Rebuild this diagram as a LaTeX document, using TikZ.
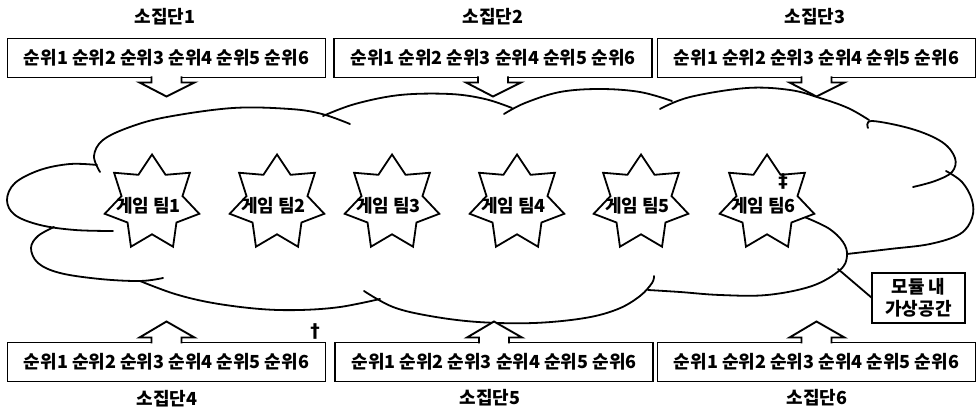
\documentclass[tikz,border=0pt]{standalone}
\usepackage{fontspec}
\setmainfont{Noto Sans CJK KR}
\newfontfamily\symf{DejaVu Sans}
\usetikzlibrary{shapes.geometric,calc}
\begin{document}
\begin{tikzpicture}[x=1pt,y=-1pt,
  rankbox/.style={draw, line width=1.9pt, minimum width=318pt, minimum height=39pt,
    inner sep=0pt, outer sep=0pt, font=\bfseries\fontsize{18}{20}\selectfont},
  hdr/.style={font=\bfseries\fontsize{18}{20}\selectfont, inner sep=0pt},
  ptr/.style={draw, fill=white, line width=1.9pt, line join=miter},
  cl/.style={line width=1.8pt, line cap=round, line join=round},
  starnode/.style={star, star points=7, star point ratio=1.55, minimum size=97pt,
    inner sep=0pt, draw, fill=white, line width=1.8pt},
  steam/.style={font=\bfseries\fontsize{18}{20}\selectfont, inner sep=0pt},
  symmark/.style={font=\symf\bfseries\fontsize{19}{19}\selectfont, inner sep=0pt}
]
\useasboundingbox (0,0) rectangle (977,411);

% ---------- cloud ----------
\draw[cl] plot[smooth, tension=0.6] coordinates {(100,172) (94,156) (103,140) (130,127) (167,117) (233,108) (290,109) (322,114) (350,124)};
\draw[cl] plot[smooth, tension=0.6] coordinates {(323,116) (355,104) (400,95) (450,94) (485,99) (512,108)};
\draw[cl] plot[smooth, tension=0.6] coordinates {(504,114) (525,103) (560,92) (600,89) (640,92) (672,101)};
\draw[cl] plot[smooth, tension=0.6] coordinates {(660,109) (690,97) (747,88) (790,90) (820,98) (848,108) (869,120)};
\draw[cl] plot[smooth, tension=0.6] coordinates {(868,128) (872,121) (912,129) (942,142) (955,158) (952,172) (935,181) (913,187)};
\draw[cl] plot[smooth, tension=0.6] coordinates {(946,171) (962,182) (972,200) (972,218) (960,234) (930,244) (890,249) (847,254)};
\draw[cl] plot[smooth, tension=0.6] coordinates {(802,216) (828,228) (843,242) (847,256) (840,270) (812,286) (767,295) (720,295) (680,292) (648,290)};
\draw[cl] plot[smooth, tension=0.6] coordinates {(364,291) (393,307) (430,316) (478,322) (534,323) (585,318) (618,309) (640,296) (652,283) (654,276)};
\draw[cl] plot[smooth, tension=0.6] coordinates {(140,281) (175,294) (213,303) (260,309) (300,310) (340,307) (380,299)};
\draw[cl] plot[smooth, tension=0.6] coordinates {(54,227) (38,236) (31,248) (38,263) (60,273) (100,279) (140,281) (163,278)};
\draw[cl] plot[smooth, tension=0.6] coordinates {(97,165) (70,164) (40,170) (15,183) (7,200) (15,215) (40,225) (75,230) (113,231)};

% ---------- stars ----------
\node[starnode] (s1) at (152,203) {};
\node[starnode] (s2) at (277,203) {};
\node[starnode] (s3) at (392,203) {};
\node[starnode] (s4) at (517,203) {};
\node[starnode] (s5) at (641,203) {};
\node[starnode] (s6) at (767,203) {};
\node[steam] (t1) at (148.5,206) {게임 팀1};
\node[steam] (t2) at (273.5,206) {게임 팀2};
\node[steam] (t3) at (388.5,206) {게임 팀3};
\node[steam] (t4) at (513.5,206) {게임 팀4};
\node[steam] (t5) at (637.5,206) {게임 팀5};
\node[steam] (t6) at (763.5,206) {게임 팀6};

% ---------- rank boxes ----------
\node[rankbox] (b1) at (166.5,58) {순위1 순위2 순위3 순위4 순위5 순위6};
\node[rankbox] (b2) at (493,58) {순위1 순위2 순위3 순위4 순위5 순위6};
\node[rankbox] (b3) at (816.5,58) {순위1 순위2 순위3 순위4 순위5 순위6};
\node[rankbox] (b4) at (166.5,362) {순위1 순위2 순위3 순위4 순위5 순위6};
\node[rankbox] (b5) at (494,362) {순위1 순위2 순위3 순위4 순위5 순위6};
\node[rankbox] (b6) at (816.5,362) {순위1 순위2 순위3 순위4 순위5 순위6};

\foreach \b in {b1,b2,b3}{
  \draw[ptr] ($(\b.south)+(-15,-1)$) -- ($(\b.south)+(-15,5)$) -- ($(\b.south)+(-27,5)$)
    -- ($(\b.south)+(0,19)$) -- ($(\b.south)+(28,5)$) -- ($(\b.south)+(15,5)$) -- ($(\b.south)+(15,-1)$);
}
\foreach \b in {b4,b5,b6}{
  \draw[ptr] ($(\b.north)+(-15,1)$) -- ($(\b.north)+(-15,-5)$) -- ($(\b.north)+(-27,-5)$)
    -- ($(\b.north)+(0,-21)$) -- ($(\b.north)+(28,-5)$) -- ($(\b.north)+(15,-5)$) -- ($(\b.north)+(15,1)$);
}

% ---------- group titles ----------
\node[hdr] (h1) at (165,17) {소집단1};
\node[hdr] (h2) at (493,17) {소집단2};
\node[hdr] (h3) at (815,17) {소집단3};
\node[hdr] (h4) at (167,399) {소집단4};
\node[hdr] (h5) at (490,398) {소집단5};
\node[hdr] (h6) at (817,398) {소집단6};

% ---------- module virtual space ----------
\node[draw, line width=1.9pt, minimum width=93pt, minimum height=50pt, inner sep=0pt,
  outer sep=0pt, align=center, font=\bfseries\fontsize{18}{22}\selectfont] (mb) at (918.5,298) {모듈 내\\가상공간};
\coordinate (cp) at (838,269);
\draw[cl] (cp) -- (mb.west);

% ---------- marks ----------
\node[symmark] (m1) at (783,181) {‡};
\node[symmark] (m2) at (315,331) {†};
\end{tikzpicture}
\end{document}
